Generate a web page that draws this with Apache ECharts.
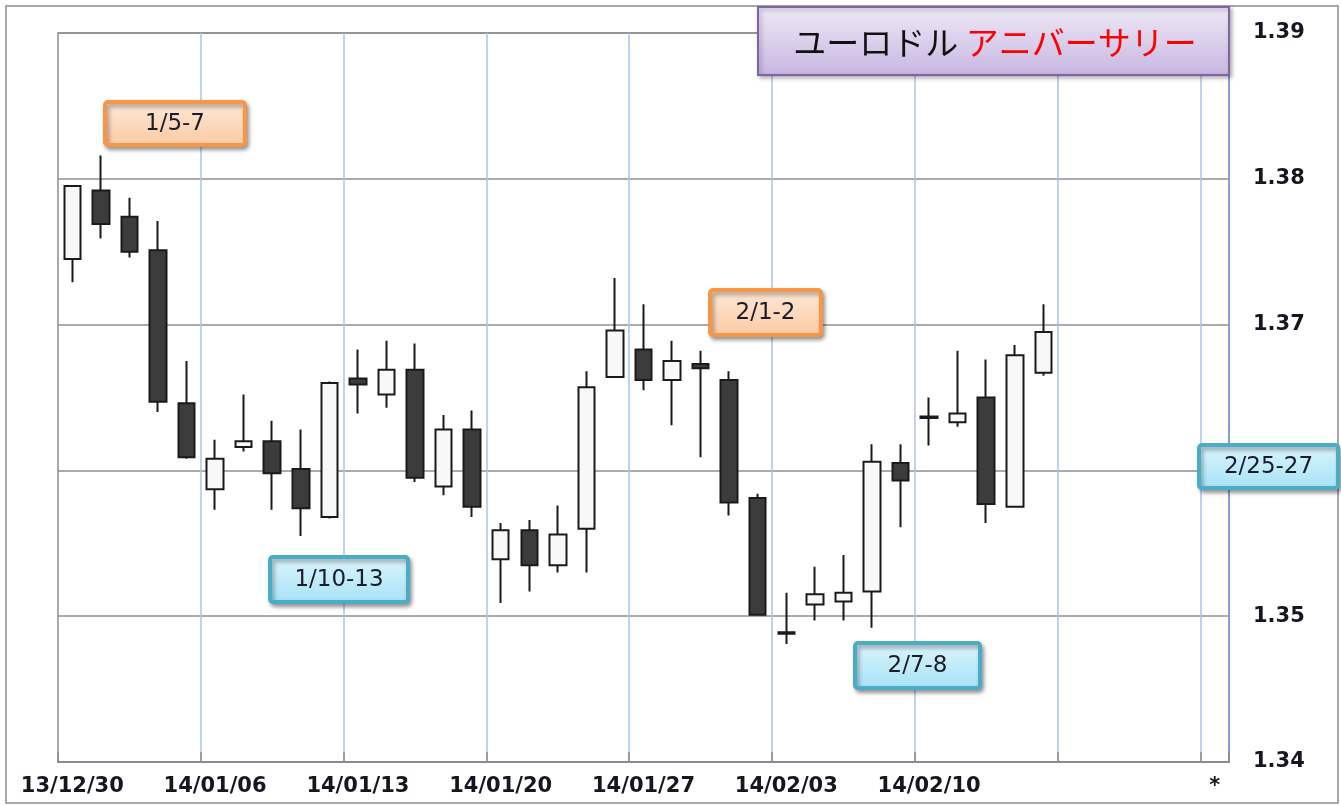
<!DOCTYPE html>
<html>
<head>
    <meta charset="utf-8">
    <title>ユーロドル アニバーサリー</title>
    <script src="https://cdn.jsdelivr.net/npm/echarts@6/dist/echarts.min.js"></script>
    <style>
        body { margin: 0; background: #fff; }
    </style>
</head>
<body>
    <div id="myChart" style="width: 1341px;height:805px;"></div>
    <script>
        // 日付ラベル (5日ごとに表示)
        var dates = [
            '13/12/30', '13/12/31', '14/01/01', '14/01/02', '14/01/03',
            '14/01/06', '14/01/07', '14/01/08', '14/01/09', '14/01/10',
            '14/01/13', '14/01/14', '14/01/15', '14/01/16', '14/01/17',
            '14/01/20', '14/01/21', '14/01/22', '14/01/23', '14/01/24',
            '14/01/27', '14/01/28', '14/01/29', '14/01/30', '14/01/31',
            '14/02/03', '14/02/04', '14/02/05', '14/02/06', '14/02/07',
            '14/02/10', '14/02/11', '14/02/12', '14/02/13', '14/02/14',
            '', '', '', '', '', '*'
        ];

        var opens = [
            1.3745, 1.3792, 1.3774, 1.3751, 1.3646,
            1.3587, 1.3616, 1.3620, 1.3601, 1.3568,
            1.3663, 1.3652, 1.3669, 1.3589, 1.3628,
            1.3539, 1.3559, 1.3535, 1.3560, 1.3664,
            1.3683, 1.3662, 1.3673, 1.3662, 1.3581,
            1.3489, 1.3508, 1.3510, 1.3517, 1.3605,
            1.3637, 1.3633, 1.3650, 1.3575, 1.3667
        ];
        var closes = [
            1.3795, 1.3769, 1.3750, 1.3647, 1.3609,
            1.3608, 1.3620, 1.3598, 1.3574, 1.3660,
            1.3659, 1.3669, 1.3595, 1.3628, 1.3575,
            1.3559, 1.3535, 1.3556, 1.3657, 1.3696,
            1.3662, 1.3675, 1.3670, 1.3578, 1.3501,
            1.3488, 1.3515, 1.3516, 1.3606, 1.3593,
            1.3636, 1.3639, 1.3577, 1.3679, 1.3695
        ];
        var lows = [
            1.3729, 1.3759, 1.3746, 1.3640, 1.3608,
            1.3573, 1.3613, 1.3573, 1.3555, 1.3567,
            1.3639, 1.3643, 1.3592, 1.3583, 1.3568,
            1.3509, 1.3517, 1.3530, 1.3530, 1.3664,
            1.3655, 1.3631, 1.3609, 1.3569, 1.3501,
            1.3481, 1.3497, 1.3497, 1.3492, 1.3561,
            1.3617, 1.3630, 1.3564, 1.3575, 1.3665
        ];
        var highs = [
            1.3795, 1.3816, 1.3787, 1.3771, 1.3675,
            1.3621, 1.3652, 1.3634, 1.3628, 1.3661,
            1.3683, 1.3689, 1.3687, 1.3638, 1.3641,
            1.3564, 1.3566, 1.3576, 1.3668, 1.3732,
            1.3714, 1.3689, 1.3682, 1.3668, 1.3584,
            1.3516, 1.3534, 1.3542, 1.3618, 1.3618,
            1.3650, 1.3682, 1.3676, 1.3686, 1.3714
        ];

        var noteLabels = ['1/5-7', '2/1-2', '1/10-13', '2/7-8', '2/25-27'];
        var noteKinds = ['orange', 'orange', 'cyan', 'cyan', 'cyan'];
        // 注記ボックスの位置 [x, y, w, h]
        var noteBoxes = [
            [105, 102, 140, 43],
            [710, 290, 111, 45],
            [270, 557, 138, 45],
            [855, 643, 125, 45],
            [1199, 445, 139, 43]
        ];

        var candleData = opens.map(function (o, i) {
            return [o, closes[i], lows[i], highs[i]];
        });

        var palette = {
            orange: { stroke: '#f79646', top: '#fee9d8', bottom: '#fbc9a3' },
            cyan: { stroke: '#4bacc6', top: '#ddf5fc', bottom: '#a5e2f6' }
        };

        function noteBox(box, label, kind) {
            var p = palette[kind];
            return {
                type: 'group',
                z: 100,
                children: [{
                    type: 'rect',
                    z: 100,
                    shape: { x: box[0], y: box[1], width: box[2], height: box[3], r: 3 },
                    style: {
                        fill: {
                            type: 'linear', x: 0, y: 0, x2: 0, y2: 1,
                            colorStops: [{ offset: 0, color: p.top }, { offset: 1, color: p.bottom }]
                        },
                        stroke: p.stroke,
                        lineWidth: 4,
                        shadowBlur: 4,
                        shadowOffsetX: 2,
                        shadowOffsetY: 3,
                        shadowColor: 'rgba(0,0,0,0.35)'
                    }
                }, {
                    type: 'text',
                    z: 101,
                    x: box[0] + box[2] / 2,
                    y: box[1] + box[3] / 2 + 1,
                    style: {
                        text: label,
                        fill: '#1b1b2a',
                        font: '23px "DejaVu Sans"',
                        align: 'center',
                        verticalAlign: 'middle'
                    }
                }]
            };
        }

        var graphics = [{
            // 外枠
            type: 'rect',
            z: 100,
            shape: { x: 6, y: 6, width: 1332, height: 797 },
            style: { fill: 'none', stroke: '#8c8c8c', lineWidth: 1.5 }
        }, {
            type: 'group',
            z: 100,
            children: [{
                type: 'rect',
                z: 100,
                shape: { x: 758, y: 7, width: 471, height: 68 },
                style: {
                    fill: {
                        type: 'linear', x: 0, y: 0, x2: 0, y2: 1,
                        colorStops: [{ offset: 0, color: '#efe9f7' }, { offset: 1, color: '#c7b6e1' }]
                    },
                    stroke: '#8064a2',
                    lineWidth: 2,
                    shadowBlur: 4,
                    shadowOffsetX: 2,
                    shadowOffsetY: 2,
                    shadowColor: 'rgba(0,0,0,0.3)'
                }
            }, {
                type: 'text',
                z: 101,
                x: 995,
                y: 42,
                style: {
                    text: '{a|ユーロドル} {b|アニバーサリー}',
                    font: '33px "Noto Sans CJK JP"',
                    align: 'center',
                    verticalAlign: 'middle',
                    rich: {
                        a: { fill: '#111111', font: '33px "Noto Sans CJK JP"' },
                        b: { fill: '#ff0000', font: '33px "Noto Sans CJK JP"' }
                    }
                }
            }]
        }];
        noteLabels.forEach(function (label, i) {
            graphics.push(noteBox(noteBoxes[i], label, noteKinds[i]));
        });

        var myChart = echarts.init(document.getElementById('myChart'));

        var option = {
            animation: false,
            backgroundColor: '#ffffff',
            grid: {
                left: 58,
                right: 112,
                top: 33,
                bottom: 43,
                show: true,
                borderColor: '#8c8c8c',
                borderWidth: 1.5,
                outerBoundsMode: 'none'
            },
            xAxis: {
                type: 'category',
                data: dates,
                boundaryGap: true,
                axisLine: { lineStyle: { color: '#8c8c8c', width: 2 } },
                axisTick: {
                    show: true,
                    interval: 4,
                    inside: true,
                    length: 10,
                    lineStyle: { color: '#8c8c8c', width: 1.5 }
                },
                splitLine: {
                    show: true,
                    interval: function (i) { return i > 0 && i % 5 === 0; },
                    lineStyle: { color: '#a9c4ea', width: 1.5 }
                },
                axisLabel: {
                    interval: 4,
                    margin: 14,
                    color: '#161620',
                    fontFamily: 'DejaVu Sans',
                    fontWeight: 'bold',
                    fontSize: 21
                }
            },
            yAxis: {
                type: 'value',
                position: 'right',
                min: 1.34,
                max: 1.39,
                interval: 0.01,
                axisLine: { show: true, lineStyle: { color: '#7fa3d6', width: 2 } },
                axisTick: { show: false },
                splitLine: { show: true, lineStyle: { color: '#8f8f8f', width: 1.5 } },
                axisLabel: {
                    margin: 24,
                    color: '#161620',
                    fontFamily: 'DejaVu Sans',
                    fontWeight: 'bold',
                    fontSize: 21,
                    formatter: function (v) { return v.toFixed(2); }
                }
            },
            series: [{
                name: 'EURUSD',
                type: 'candlestick',
                data: candleData,
                barWidth: 17,
                itemStyle: {
                    color: '#f8f8f8',
                    color0: '#3c3c3c',
                    borderColor: '#1a1a1a',
                    borderColor0: '#1a1a1a',
                    borderColorDoji: '#1a1a1a',
                    borderWidth: 2
                }
            }],
            graphic: graphics
        };
        myChart.setOption(option);
    </script>
</body>
</html>
